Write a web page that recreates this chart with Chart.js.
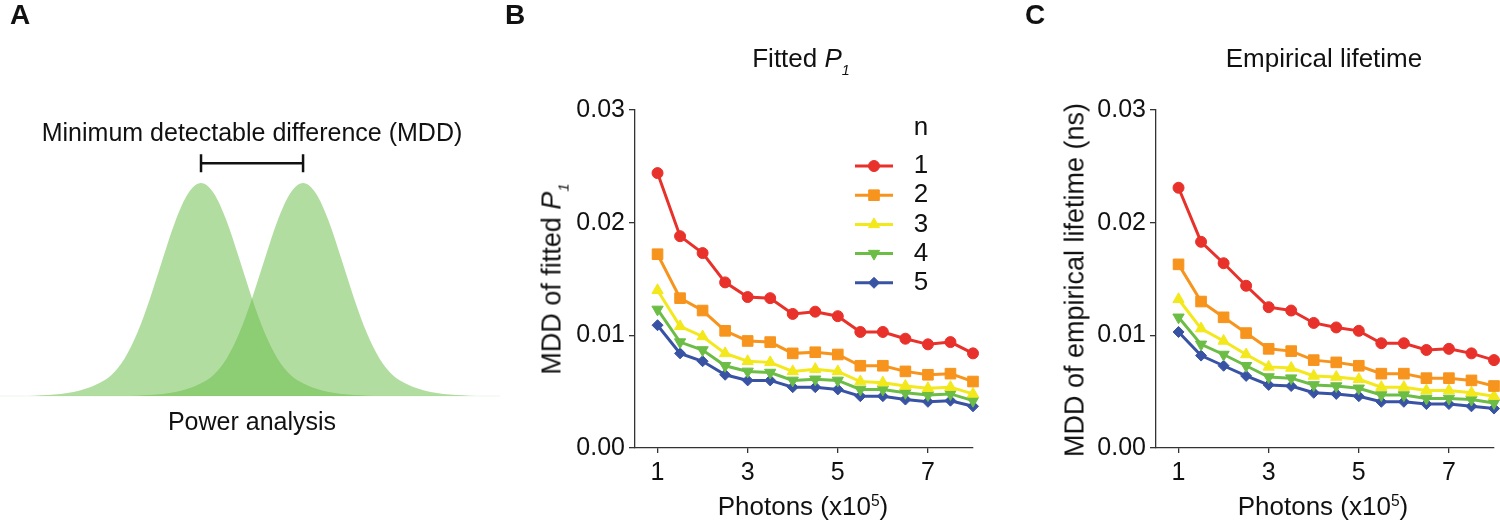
<!DOCTYPE html>
<html>
<head>
<meta charset="utf-8">
<script src="https://cdn.jsdelivr.net/npm/chart.js@4.4.0/dist/chart.umd.min.js"></script>
<style>
  html, body { margin: 0; padding: 0; background: #fff; }
  #fig { position: relative; width: 1500px; height: 522px; overflow: hidden;
         font-family: "Liberation Sans", Arial, sans-serif; color: #111; }
  canvas { position: absolute; top: 0; }
  .t { position: absolute; white-space: nowrap; line-height: 1; }
  .c { transform: translateX(-50%); }
  .r { transform: translate(-50%, -50%) rotate(-90deg); }
  .lab { font-weight: bold; font-size: 28px; }
  .sub { font-size: 0.55em; vertical-align: -0.55em; line-height: 0; }
  .sup { font-size: 0.6em; vertical-align: 0.55em; line-height: 0; }
</style>
</head>
<body>
<div id="fig">
  <canvas id="chartA" width="500" height="420" style="left:0px"></canvas>
  <canvas id="chartB" width="500" height="522" style="left:500px"></canvas>
  <canvas id="chartC" width="500" height="522" style="left:1000px"></canvas>

  <div class="t lab" style="left:10px; top:1px">A</div>
  <div class="t lab" style="left:505px; top:1px">B</div>
  <div class="t lab" style="left:1025px; top:1px">C</div>

  <div class="t c" style="left:252px; top:120px; font-size:25px">Minimum detectable difference (MDD)</div>
  <div class="t c" style="left:252px; top:409px; font-size:25px">Power analysis</div>

  <div class="t c" style="left:801px; top:45px; font-size:26px">Fitted <i>P<span class="sub">1</span></i></div>
  <div class="t c" style="left:1324px; top:45px; font-size:26px">Empirical lifetime</div>

  <div class="t r" style="left:552px; top:279px; font-size:27px">MDD of fitted <i>P<span class="sub">1</span></i></div>
  <div class="t r" style="left:1075px; top:280px; font-size:27px">MDD of empirical lifetime (ns)</div>

  <div class="t c" style="left:803px; top:493px; font-size:26px">Photons (x10<span class="sup">5</span>)</div>
  <div class="t c" style="left:1323px; top:493px; font-size:26px">Photons (x10<span class="sup">5</span>)</div>
</div>

<script>
// panel A: two bell curves, heights (peak = 1, MDD = 1 unit)
var A_X = [-1.75, -1.625, -1.5, -1.375, -1.25, -1.125, -1, -0.875, -0.75, -0.625, -0.5, -0.375, -0.25, -0.125,
           0, 0.125, 0.25, 0.375, 0.5, 0.625, 0.75, 0.875, 1, 1.125, 1.25, 1.375, 1.5, 1.625, 1.75, 1.875,
           2, 2.125, 2.25, 2.375, 2.5, 2.625, 2.75];
var A_LEFT = [0, 0.001, 0.004, 0.009, 0.018, 0.035, 0.06, 0.1, 0.175, 0.295, 0.458, 0.644, 0.823, 0.952,
              1, 0.952, 0.823, 0.644, 0.458, 0.295, 0.175, 0.1, 0.06, 0.035, 0.018, 0.009, 0.004, 0.001,
              0, 0, 0, 0, 0, 0, 0, 0, 0];
var A_RIGHT = [0, 0, 0, 0, 0, 0, 0, 0, 0, 0.001, 0.004, 0.009, 0.018, 0.035, 0.06, 0.1, 0.175, 0.295, 0.458,
               0.644, 0.823, 0.952, 1, 0.952, 0.823, 0.644, 0.458, 0.295, 0.175, 0.1, 0.06, 0.035, 0.018,
               0.009, 0.004, 0.001, 0];
var MDD_BAR = [0, 1];

// panels B and C
var PHOTONS = [1, 1.5, 2, 2.5, 3, 3.5, 4, 4.5, 5, 5.5, 6, 6.5, 7, 7.5, 8];
var N_LABELS = ['1', '2', '3', '4', '5'];
var X_TICKS = [1, 3, 5, 7];
var Y_TICKS = [0, 0.01, 0.02, 0.03];

var P1_N1 = [0.0244, 0.0188, 0.0173, 0.0147, 0.0134, 0.0133, 0.0119, 0.0121, 0.0117, 0.0103, 0.0103, 0.0097, 0.0092, 0.0094, 0.0084];
var P1_N2 = [0.0172, 0.0133, 0.0122, 0.0104, 0.0095, 0.0094, 0.0084, 0.0085, 0.0083, 0.0073, 0.0073, 0.0068, 0.0065, 0.0066, 0.0059];
var P1_N3 = [0.0140, 0.0108, 0.0099, 0.0084, 0.0077, 0.0076, 0.0068, 0.0070, 0.0068, 0.0059, 0.0058, 0.0055, 0.0053, 0.0054, 0.0048];
var P1_N4 = [0.0123, 0.0094, 0.0087, 0.0073, 0.0068, 0.0067, 0.0060, 0.0061, 0.0060, 0.0052, 0.0052, 0.0049, 0.0047, 0.0048, 0.0042];
var P1_N5 = [0.0109, 0.0084, 0.0077, 0.0065, 0.0060, 0.0060, 0.0054, 0.0054, 0.0052, 0.0046, 0.0046, 0.0043, 0.0041, 0.0042, 0.0037];

var TAU_N1 = [0.0231, 0.0183, 0.0164, 0.0144, 0.0125, 0.0122, 0.0111, 0.0107, 0.0104, 0.0093, 0.0093, 0.0087, 0.0088, 0.0084, 0.0078];
var TAU_N2 = [0.0163, 0.0130, 0.0116, 0.0102, 0.0088, 0.0086, 0.0078, 0.0076, 0.0073, 0.0066, 0.0066, 0.0062, 0.0062, 0.0060, 0.0055];
var TAU_N3 = [0.0132, 0.0106, 0.0095, 0.0083, 0.0072, 0.0071, 0.0064, 0.0063, 0.0061, 0.0054, 0.0054, 0.0051, 0.0051, 0.0049, 0.0046];
var TAU_N4 = [0.0116, 0.0092, 0.0083, 0.0073, 0.0063, 0.0062, 0.0056, 0.0055, 0.0053, 0.0047, 0.0047, 0.0044, 0.0044, 0.0043, 0.0040];
var TAU_N5 = [0.0103, 0.0082, 0.0073, 0.0064, 0.0056, 0.0055, 0.0049, 0.0048, 0.0046, 0.0041, 0.0041, 0.0039, 0.0039, 0.0037, 0.0035];

var FONT = '"Liberation Sans", Arial, sans-serif';
var COLORS = ['#e8312a', '#f7941d', '#f3e81c', '#6cbd45', '#3953a4'];
var MARKERS = [
    { style: 'circle', radius: 5.5, rotation: 0 },
    { style: 'rect', radius: 7.5, rotation: 0 },
    { style: 'triangle', radius: 6.5, rotation: 0 },
    { style: 'triangle', radius: 6.5, rotation: 180 },
    { style: 'rectRot', radius: 5.5, rotation: 0 }
];

function pairs(xs, ys) {
    return xs.map(function (x, i) { return { x: x, y: ys[i] }; });
}

// ---- panel A ----
var greenFill = 'rgba(107, 190, 72, 0.52)';

new Chart(document.getElementById('chartA'), {
    type: 'line',
    data: {
        datasets: [
            { data: pairs(MDD_BAR, [1.0925, 1.0925]), borderColor: '#111', borderWidth: 2.5,
              pointStyle: 'line', pointRotation: 90, pointRadius: 9, pointBorderWidth: 2.5,
              pointBorderColor: '#111', fill: false, clip: false },
            { data: pairs(A_X, A_LEFT), borderWidth: 0, pointRadius: 0, fill: 'origin',
              backgroundColor: greenFill, cubicInterpolationMode: 'monotone' },
            { data: pairs(A_X, A_RIGHT), borderWidth: 0, pointRadius: 0, fill: 'origin',
              backgroundColor: greenFill, cubicInterpolationMode: 'monotone' },
            { data: pairs([-1.97, 2.93], [0, 0]), borderColor: 'rgba(107, 190, 72, 0.12)',
              borderWidth: 1, pointRadius: 0, fill: false }
        ]
    },
    options: {
        responsive: false,
        animation: false,
        events: [],
        layout: { padding: 0, autoPadding: false },
        plugins: { legend: { display: false }, tooltip: { enabled: false } },
        scales: {
            x: { type: 'linear', min: -1.97, max: 2.93, display: false },
            y: { type: 'linear', min: -0.113, max: 1.859, display: false }
        }
    }
});

// ---- legend drawn inside panel B ----
var nLegend = {
    id: 'nLegend',
    afterDatasetsDraw: function (chart, args, opts) {
        if (!opts.show) return;
        var ctx = chart.ctx;
        ctx.save();
        ctx.font = '26px ' + FONT;
        ctx.fillStyle = '#111';
        ctx.textAlign = 'center';
        ctx.textBaseline = 'middle';
        ctx.fillText('n', opts.textX, opts.titleY);
        chart.data.datasets.forEach(function (ds, i) {
            var y = opts.rowY + i * opts.rowGap;
            ctx.strokeStyle = ds.borderColor;
            ctx.lineWidth = ds.borderWidth;
            ctx.beginPath();
            ctx.moveTo(opts.lineX0, y);
            ctx.lineTo(opts.lineX1, y);
            ctx.stroke();
            ctx.fillStyle = ds.borderColor;
            ctx.lineWidth = 1;
            Chart.helpers.drawPoint(ctx, {
                pointStyle: ds.pointStyle, radius: ds.pointRadius,
                rotation: ds.pointRotation, borderWidth: 1
            }, (opts.lineX0 + opts.lineX1) / 2, y);
            ctx.fillStyle = '#111';
            ctx.fillText(ds.label, opts.textX, y);
        });
        ctx.restore();
    }
};

function mddChart(id, series, axisWidth, rightPad, showLegend) {
    var datasets = series.map(function (ys, i) {
        return {
            label: N_LABELS[i],
            data: pairs(PHOTONS, ys),
            borderColor: COLORS[i],
            backgroundColor: COLORS[i],
            borderWidth: 3,
            pointStyle: MARKERS[i].style,
            pointRadius: MARKERS[i].radius,
            pointRotation: MARKERS[i].rotation,
            pointBorderWidth: 1,
            tension: 0,
            clip: false
        };
    });
    return new Chart(document.getElementById(id), {
        type: 'line',
        data: { datasets: datasets },
        plugins: [nLegend],
        options: {
            responsive: false,
            animation: false,
            events: [],
            layout: { padding: { top: 110, right: rightPad, left: 0, bottom: 0 }, autoPadding: false },
            plugins: {
                legend: { display: false },
                tooltip: { enabled: false },
                nLegend: { show: showLegend, textX: 421, titleY: 128, rowY: 166, rowGap: 29.2,
                           lineX0: 355, lineX1: 393 }
            },
            scales: {
                x: {
                    type: 'linear', min: 0.5, max: 8,
                    afterBuildTicks: function (s) { s.ticks = X_TICKS.map(function (v) { return { value: v }; }); },
                    afterFit: function (s) { s.height = 74; },
                    ticks: { font: { family: FONT, size: 25 }, color: '#111', padding: 5, maxRotation: 0,
                             callback: function (v) { return String(v); } },
                    grid: { drawOnChartArea: false, drawTicks: true, tickLength: 5, color: '#333', lineWidth: 1.3 },
                    border: { color: '#333', width: 1.3 }
                },
                y: {
                    type: 'linear', min: 0, max: 0.03,
                    afterBuildTicks: function (s) { s.ticks = Y_TICKS.map(function (v) { return { value: v }; }); },
                    afterFit: function (s) { s.width = axisWidth; },
                    ticks: { font: { family: FONT, size: 25 }, color: '#111', padding: 4,
                             callback: function (v) { return v.toFixed(2); } },
                    grid: { drawOnChartArea: false, drawTicks: true, tickLength: 6, color: '#333', lineWidth: 1.3 },
                    border: { color: '#333', width: 1.3 }
                }
            }
        }
    });
}

mddChart('chartB', [P1_N1, P1_N2, P1_N3, P1_N4, P1_N5], 135, 27, true);
mddChart('chartC', [TAU_N1, TAU_N2, TAU_N3, TAU_N4, TAU_N5], 156, 6, false);
</script>
</body>
</html>
